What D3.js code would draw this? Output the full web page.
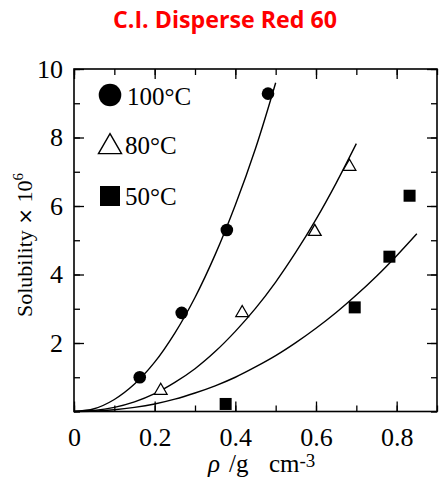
<!DOCTYPE html>
<html>
<head>
<meta charset="utf-8">
<script src="https://cdn.jsdelivr.net/npm/d3@7"></script>
<style>
body{margin:0;background:#fff;}
svg{display:block;}
</style>
</head>
<body>
<svg id="chart" width="439" height="477"></svg>
<script>
// measured points
var rho100 = [0.163, 0.267, 0.379, 0.481];
var sol100 = [1.00, 2.88, 5.30, 9.28];
var rho80 = [0.215, 0.417, 0.597, 0.683];
var sol80 = [0.61, 2.88, 5.25, 7.15];
var rho50 = [0.376, 0.696, 0.782, 0.832];
var sol50 = [0.22, 3.04, 4.52, 6.30];

// fitted curves
var curveX100 = [0, 0.05, 0.1, 0.15, 0.2, 0.25, 0.3, 0.35, 0.4, 0.45, 0.5];
var curveY100 = [0, 0.08, 0.35, 0.80, 1.44, 2.29, 3.33, 4.58, 6.03, 7.68, 9.60];
var curveX80 = [0, 0.05, 0.1, 0.15, 0.2, 0.25, 0.3, 0.35, 0.4, 0.45, 0.5, 0.55, 0.6, 0.65, 0.7];
var curveY80 = [0, 0.03, 0.12, 0.28, 0.52, 0.85, 1.25, 1.75, 2.34, 3.01, 3.78, 4.65, 5.61, 6.67, 7.82];
var curveX50 = [0, 0.05, 0.1, 0.15, 0.2, 0.25, 0.3, 0.35, 0.4, 0.45, 0.5, 0.55, 0.6, 0.65, 0.7, 0.75, 0.8, 0.85];
var curveY50 = [0, 0.01, 0.05, 0.12, 0.22, 0.36, 0.54, 0.75, 1.00, 1.30, 1.63, 2.01, 2.43, 2.89, 3.40, 3.95, 4.55, 5.19];

var legendLabels = ["100°C", "80°C", "50°C"];
var xTicks = [0, 0.2, 0.4, 0.6, 0.8];
var yTicks = [2, 4, 6, 8, 10];

var svg = d3.select("#chart");
var pLeft = 74, pTop = 69, pRight = 437, pBottom = 411.5;

var x = d3.scaleLinear().domain([0, 0.9]).range([pLeft, pRight]);
var y = d3.scaleLinear().domain([0, 10]).range([pBottom, pTop]);

svg.append("text")
	.attr("x", 225).attr("y", 28)
	.attr("text-anchor", "middle")
	.attr("textLength", 224).attr("lengthAdjust", "spacingAndGlyphs")
	.style("font-family", "'Open Sans', sans-serif")
	.style("font-weight", "bold")
	.style("font-size", "23px")
	.style("fill", "#ff0000")
	.text("C.I. Disperse Red 60");

var serif = "'Liberation Serif', 'Times New Roman', serif";

function fmt(d){ return d == 0 ? "0" : d3.format(".1f")(d); }

// minor ticks every 0.1 / 1
var minorX = d3.range(0, 0.91, 0.1);
var minorY = d3.range(0, 10.1, 1);

var g1 = svg.append("g").attr("transform", "translate(0," + pBottom + ")")
	.call(d3.axisBottom(x).tickValues(minorX).tickSize(-6).tickFormat(""));
var g2 = svg.append("g").attr("transform", "translate(0," + pBottom + ")")
	.call(d3.axisBottom(x).tickValues(xTicks).tickSize(-10).tickPadding(16).tickFormat(fmt));
var g3 = svg.append("g").attr("transform", "translate(0," + pTop + ")")
	.call(d3.axisTop(x).tickValues(minorX).tickSize(-6).tickFormat(""));
var g4 = svg.append("g").attr("transform", "translate(0," + pTop + ")")
	.call(d3.axisTop(x).tickValues(xTicks).tickSize(-10).tickFormat(""));
var g5 = svg.append("g").attr("transform", "translate(" + pLeft + ",0)")
	.call(d3.axisLeft(y).tickValues(minorY).tickSize(-6).tickFormat(""));
var g6 = svg.append("g").attr("transform", "translate(" + pLeft + ",0)")
	.call(d3.axisLeft(y).tickValues(yTicks).tickSize(-10).tickPadding(11).tickFormat(d3.format("d")));
var g7 = svg.append("g").attr("transform", "translate(" + pRight + ",0)")
	.call(d3.axisRight(y).tickValues(minorY).tickSize(-6).tickFormat(""));
var g8 = svg.append("g").attr("transform", "translate(" + pRight + ",0)")
	.call(d3.axisRight(y).tickValues(yTicks).tickSize(-10).tickFormat(""));

[g1, g2, g3, g4, g5, g6, g7, g8].forEach(function(g){
	g.select(".domain").remove();
	g.selectAll("line").attr("stroke", "#000").attr("stroke-width", 1.3);
	g.selectAll("text").style("font-family", serif).style("font-size", "26px").attr("fill", "#000");
});

svg.append("rect")
	.attr("x", pLeft).attr("y", pTop)
	.attr("width", pRight - pLeft).attr("height", pBottom - pTop)
	.attr("fill", "none").attr("stroke", "#000").attr("stroke-width", 1.6);

// curves
var line = d3.line().x(d => x(d[0])).y(d => y(d[1])).curve(d3.curveCatmullRom);
[[curveX100, curveY100], [curveX80, curveY80], [curveX50, curveY50]].forEach(function(c){
	svg.append("path")
		.datum(d3.zip(c[0], c[1]))
		.attr("d", line)
		.attr("fill", "none").attr("stroke", "#000").attr("stroke-width", 1.4);
});

// markers
svg.append("g").selectAll("circle")
	.data(d3.zip(rho100, sol100)).enter().append("circle")
	.attr("cx", d => x(d[0])).attr("cy", d => y(d[1])).attr("r", 6.3).attr("fill", "#000");

var tri = d3.symbol().type(d3.symbolTriangle).size(70);
svg.append("g").selectAll("path")
	.data(d3.zip(rho80, sol80)).enter().append("path")
	.attr("d", tri)
	.attr("transform", d => "translate(" + x(d[0]) + "," + y(d[1]) + ")")
	.attr("fill", "#fff").attr("stroke", "#000").attr("stroke-width", 1.3);

svg.append("g").selectAll("rect")
	.data(d3.zip(rho50, sol50)).enter().append("rect")
	.attr("x", d => x(d[0]) - 6).attr("y", d => y(d[1]) - 6)
	.attr("width", 12).attr("height", 12).attr("fill", "#000");

// legend
var lg = svg.append("g");
lg.append("circle").attr("cx", 110).attr("cy", 95).attr("r", 11.3).attr("fill", "#000");
lg.append("path").attr("d", d3.symbol().type(d3.symbolTriangle).size(230))
	.attr("transform", "translate(110,147)")
	.attr("fill", "#fff").attr("stroke", "#000").attr("stroke-width", 1.4);
lg.append("rect").attr("x", 100).attr("y", 186).attr("width", 20).attr("height", 20).attr("fill", "#000");
lg.selectAll("text").data(legendLabels).enter().append("text")
	.attr("x", (d, i) => i == 0 ? 127 : 125)
	.attr("y", (d, i) => [105, 153.5, 205][i])
	.style("font-family", serif).style("font-size", "25px")
	.text(d => d);

// axis titles
var yl = svg.append("text")
	.attr("transform", "translate(32,245) rotate(-90)")
	.attr("text-anchor", "middle")
	.style("font-family", serif).style("font-size", "22px");
yl.append("tspan").text("Solubility ");
yl.append("tspan").style("font-family", "'DejaVu Sans', sans-serif").style("font-size", "20px").text("×");
yl.append("tspan").text(" 10");
yl.append("tspan").attr("dy", -9).style("font-size", "15px").text("6");

var xl = svg.append("text")
	.attr("y", 472)
	.style("font-family", serif).style("font-size", "25px");
xl.append("tspan").attr("x", 208).style("font-style", "italic").text("ρ");
xl.append("tspan").attr("x", 229).text("/g");
xl.append("tspan").attr("x", 269).text("cm");
xl.append("tspan").attr("dy", -5).style("font-size", "19px").text("-3");
</script>
</body>
</html>
